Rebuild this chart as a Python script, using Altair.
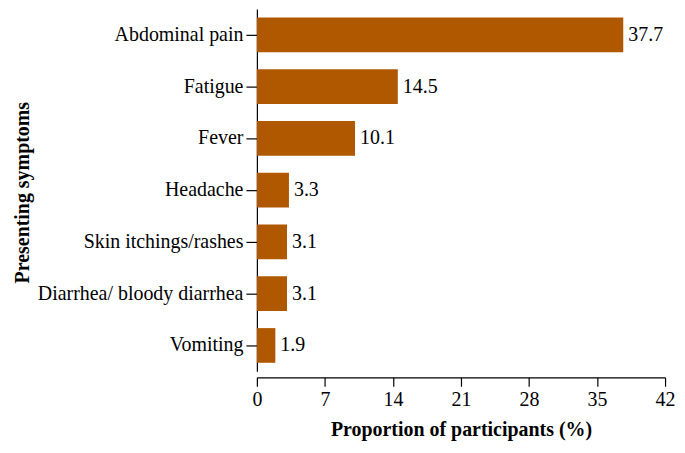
import altair as alt
import pandas as pd

symptoms = ["Abdominal pain", "Fatigue", "Fever", "Headache",
            "Skin itchings/rashes", "Diarrhea/ bloody diarrhea", "Vomiting"]
values = [37.7, 14.5, 10.1, 3.3, 3.1, 3.1, 1.9]
x_ticks = [0, 7, 14, 21, 28, 35, 42]

df = pd.DataFrame({"symptom": symptoms, "value": values,
                   "label": [f"{v:.1f}" for v in values]})

FONT = "Liberation Serif"
COLOR = "#B05800"

common = dict(labelFont=FONT, labelFontSize=20, labelColor="black",
              titleFont=FONT, titleFontSize=20, titleFontWeight="bold", titleColor="black",
              tickColor="black", domainColor="black", domainWidth=1.2, tickWidth=1.2,
              grid=False)

y_enc = alt.Y("symptom:N", sort=symptoms,
              scale=alt.Scale(paddingInner=0.33, paddingOuter=0.165, range=[0, 364]),
              axis=alt.Axis(title="Presenting symptoms",
                            titleX=-235, titleY=184, titleAngle=-90,
                            titleAlign="center", titleBaseline="middle",
                            labelPadding=3, tickSize=11, labelLimit=400, **common))
x_enc = alt.X("value:Q",
              scale=alt.Scale(domain=[0, 42], nice=False),
              axis=alt.Axis(title="Proportion of participants (%)", values=x_ticks,
                            titlePadding=10, labelPadding=3, tickSize=9,
                            labelFlush=False, **common))

base = alt.Chart(df).encode(x=x_enc, y=y_enc)
bars = base.mark_bar(color=COLOR)
text = base.mark_text(align="left", baseline="middle", dx=5, font=FONT,
                      fontSize=20, color="black").encode(text="label:N")

chart = alt.layer(bars, text).properties(
    width=410, height=370,
    autosize=alt.AutoSizeParams(type="none"),
    padding={"left": 250, "top": 0, "right": 12, "bottom": 64},
).configure_view(stroke=None).configure_axis(**common)

chart.save("out.html", embed_options={"renderer": "svg", "actions": False})
